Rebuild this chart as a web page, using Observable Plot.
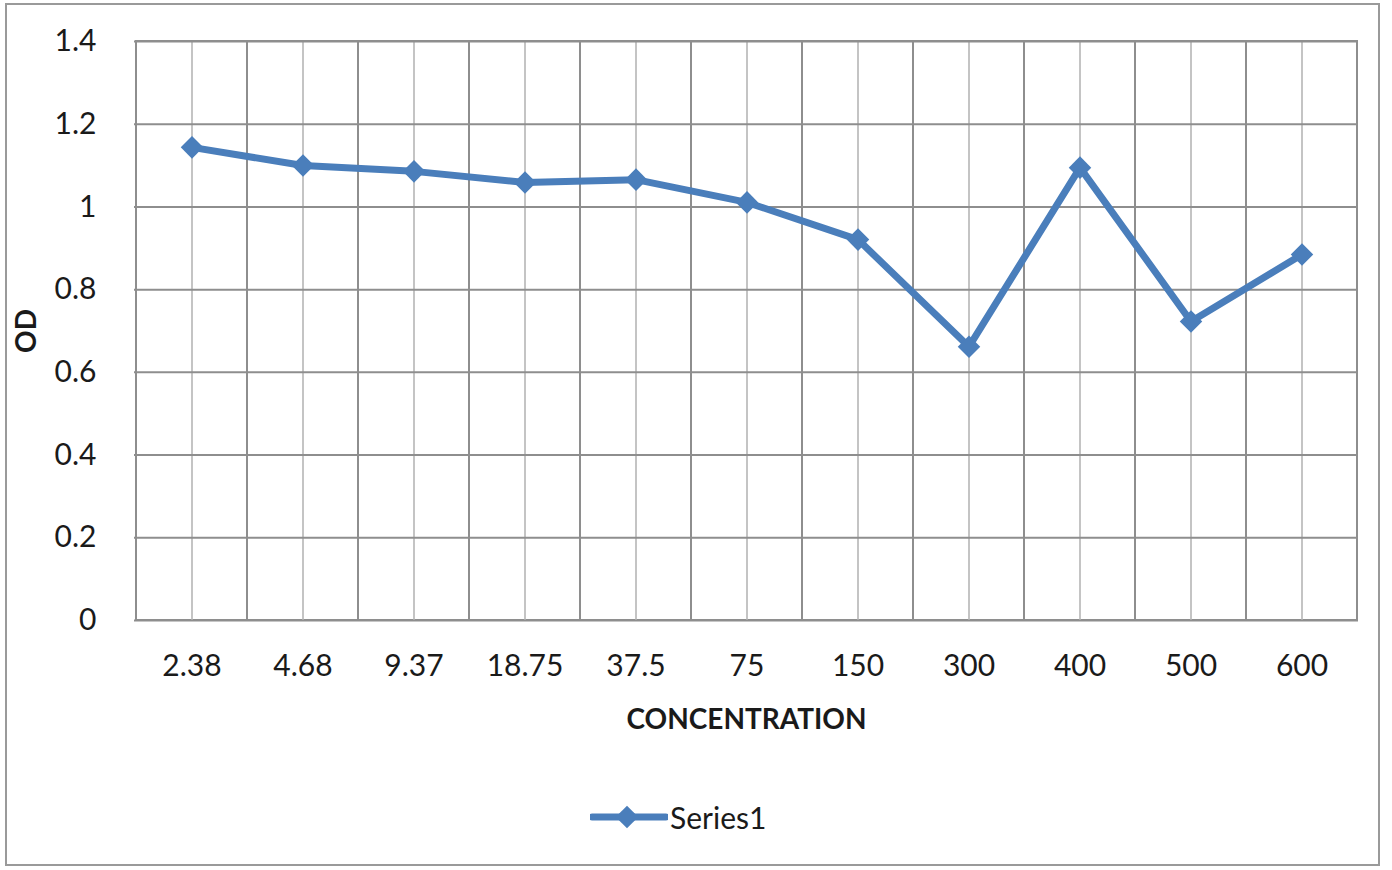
<!DOCTYPE html>
<html>
<head>
<meta charset="utf-8">
<script src="https://cdn.jsdelivr.net/npm/d3@7"></script>
<script src="https://cdn.jsdelivr.net/npm/@observablehq/plot@0.6"></script>
<style>
  body { margin: 0; background: #fff; }
  #wrap { position: relative; width: 1392px; height: 870px; font-family: Lato, "Open Sans", sans-serif; }
  #border { position: absolute; left: 5px; top: 3px; width: 1375px; height: 863px; border: 2px solid #9a9a9a; box-sizing: border-box; pointer-events: none; }
  #legend { position: absolute; left: 590px; top: 797px; display: flex; align-items: center; font-size: 30px; color: #1a1a1a; }
  #legend span { margin-left: 2px; }
</style>
</head>
<body>
<div id="wrap">
  <div id="chart"></div>
  <div id="border"></div>
  <div id="legend"></div>
</div>
<script>
const concentrations = ["2.38", "4.68", "9.37", "18.75", "37.5", "75", "150", "300", "400", "500", "600"];
const odValues = [1.144, 1.100, 1.086, 1.059, 1.066, 1.011, 0.921, 0.662, 1.095, 0.723, 0.885];
const yTicks = [0, 0.2, 0.4, 0.6, 0.8, 1, 1.2, 1.4];
const seriesName = "Series1";
const lineColor = "#4a7ebb";

const data = concentrations.map((c, i) => ({conc: c, od: odValues[i]}));

const chart = Plot.plot({
  width: 1392,
  height: 870,
  marginLeft: 134,
  marginRight: 34,
  marginTop: 41,
  marginBottom: 250,
  style: {fontFamily: "Lato, 'Open Sans', sans-serif", fontSize: "30px", color: "#1a1a1a", background: "transparent"},
  x: {type: "band", domain: concentrations, padding: 0},
  y: {domain: [0, 1.4]},
  marks: [
    Plot.cell(concentrations, {x: d => d, fill: "none", stroke: "#8e8e8e", strokeWidth: 2}),
    Plot.ruleX(concentrations, {x: d => d, stroke: "#c4c4c4", strokeWidth: 2}),
    Plot.ruleY(yTicks, {y: d => d, stroke: "#8e8e8e", strokeWidth: 2}),
    Plot.axisY({ticks: yTicks, tickSize: 0, tickPadding: 38, tickFormat: d => String(d), fontSize: 30,
      label: "OD", labelAnchor: "center", labelOffset: 118, labelArrow: false}),
    Plot.axisX({tickSize: 0, tickPadding: 34, fontSize: 30, label: "CONCENTRATION", labelAnchor: "center", labelOffset: 108, labelArrow: false}),
    Plot.line(data, {x: "conc", y: "od", stroke: lineColor, strokeWidth: 7}),
    Plot.dot(data, {x: "conc", y: "od", symbol: "square", r: 9, rotate: 45, fill: lineColor, stroke: "none"})
  ]
});
document.getElementById("chart").appendChild(chart);

// bold axis labels
d3.select(chart).selectAll("[aria-label='x-axis label'] text, [aria-label='y-axis label'] text")
  .style("font-weight", "bold").style("font-size", "28px");

// legend
const legend = d3.select("#legend");
const sw = legend.append("svg").attr("width", 78).attr("height", 40);
sw.append("line").attr("x1", 2).attr("x2", 76).attr("y1", 20).attr("y2", 20)
  .attr("stroke", lineColor).attr("stroke-width", 7).attr("stroke-linecap", "round");
sw.append("rect").attr("x", 29).attr("y", 12).attr("width", 16).attr("height", 16)
  .attr("fill", lineColor).attr("transform", "rotate(45 37 20)");
legend.append("span").text(seriesName);
</script>
</body>
</html>
